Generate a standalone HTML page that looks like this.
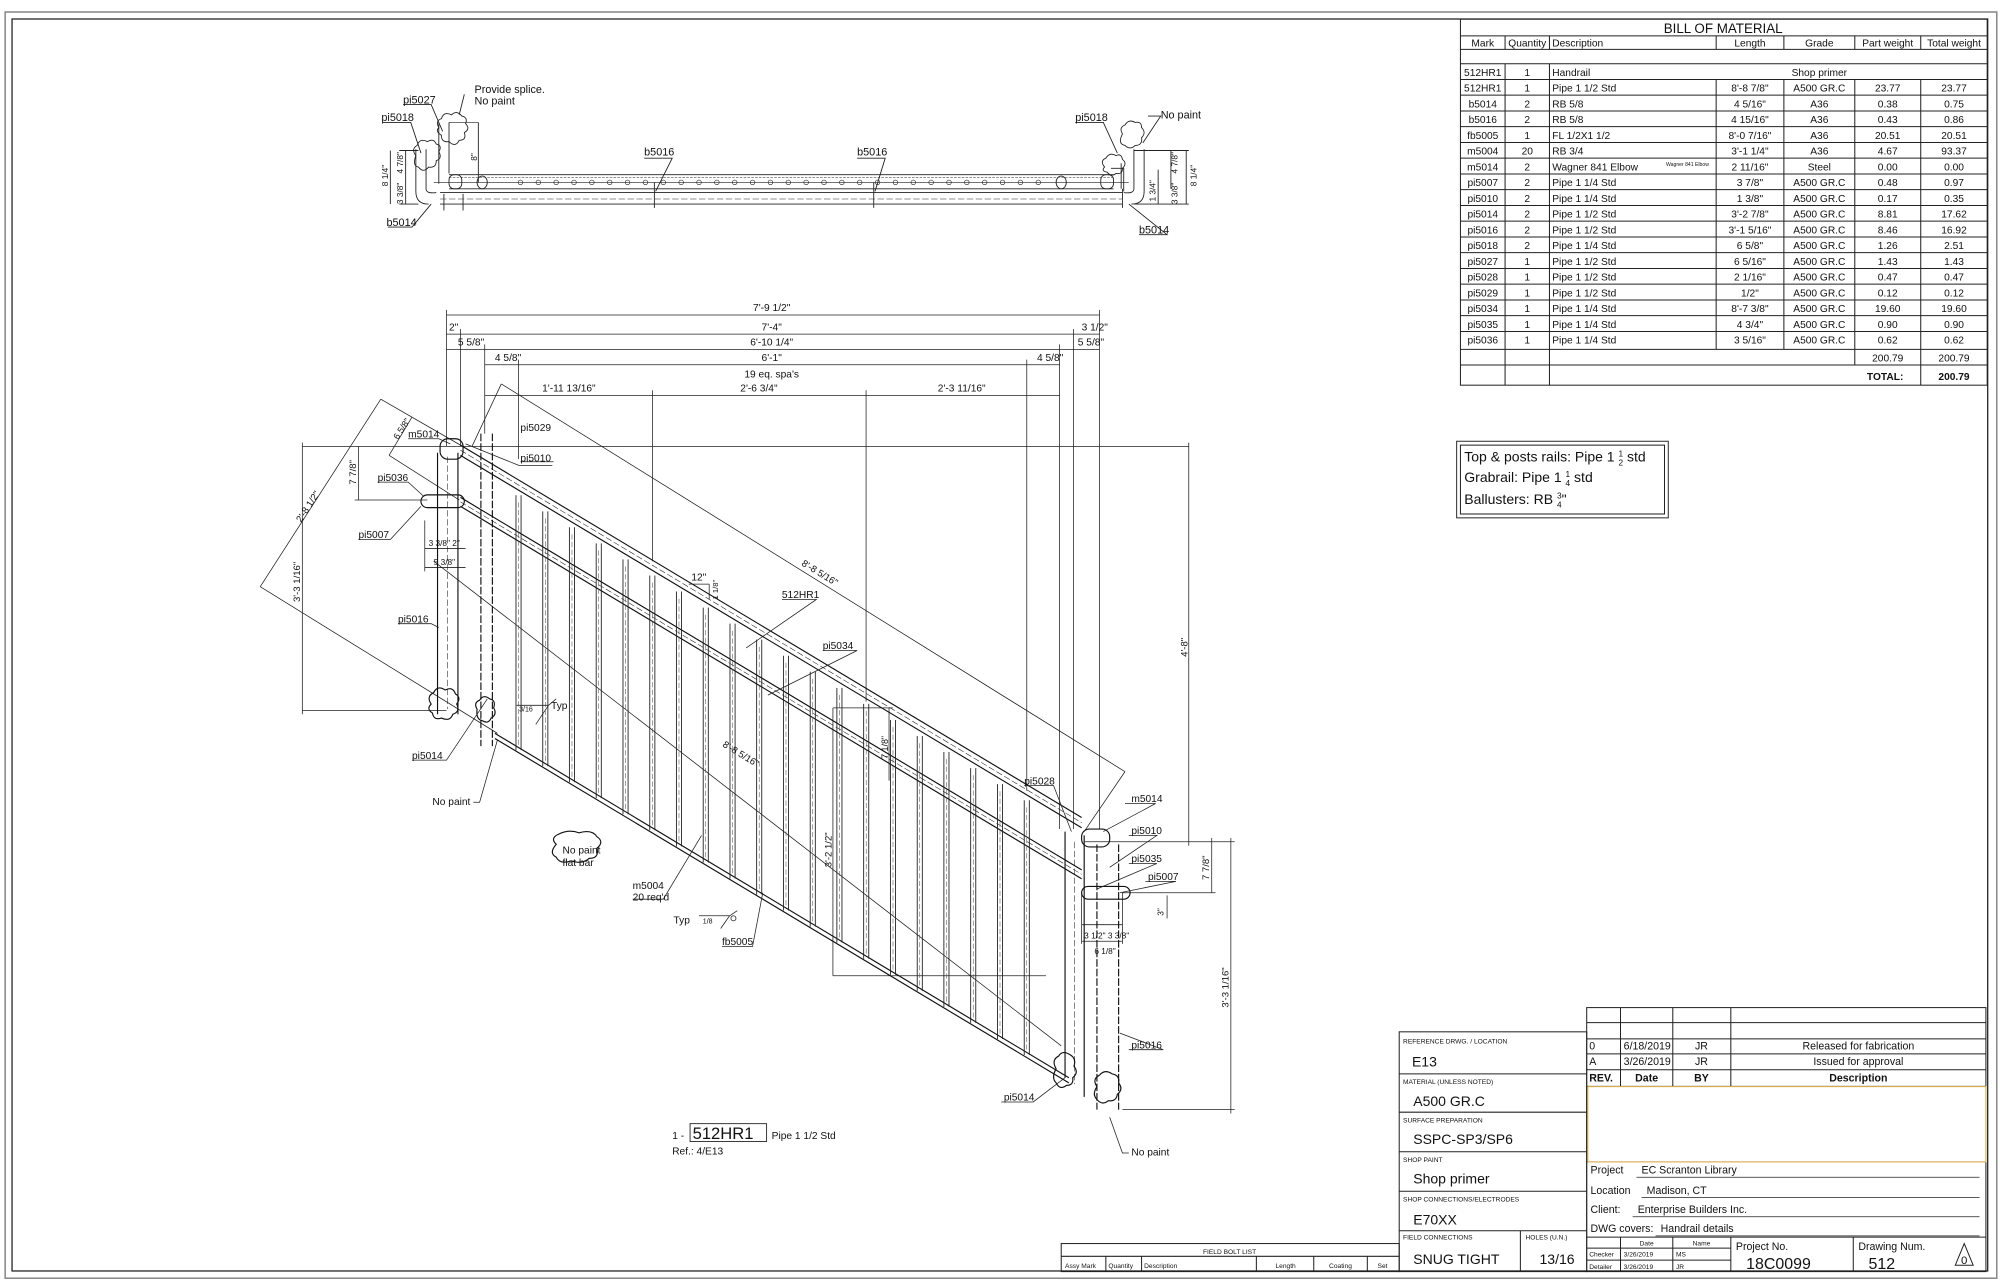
<!DOCTYPE html>
<html><head><meta charset="utf-8"><style>
html,body{margin:0;padding:0;background:#fff}
svg{display:block}
text{font-family:"Liberation Sans",Arial,sans-serif;fill:#111}
</style></head><body>
<svg width="2000" height="1285" viewBox="0 0 1568 1007.5" xmlns="http://www.w3.org/2000/svg">
<defs>
<g id="bal">
<line x1="-2" y1="144.4" x2="-2" y2="344.2" stroke="#222" stroke-width="0.7"/>
<line x1="2" y1="144.4" x2="2" y2="344.2" stroke="#222" stroke-width="0.7"/>
<line x1="0" y1="150" x2="0" y2="340" stroke="#444" stroke-width="0.4" stroke-dasharray="4,2"/>
</g>
</defs>
<rect x="0" y="0" width="1568" height="1007.5" fill="#fff"/>
<rect x="4" y="9.4" width="1561.5" height="992.8" fill="none" stroke="#888" stroke-width="1.2"/>
<rect x="9.4" y="14.9" width="1549" height="981.6" fill="none" stroke="#222" stroke-width="1"/>

<g stroke="#222" stroke-width="0.8" fill="none">
<rect x="1145" y="15" width="413" height="287"/>
<line x1="1145" y1="28.1" x2="1558" y2="28.1"/>
<line x1="1145" y1="38.7" x2="1558" y2="38.7"/>
<line x1="1145" y1="50" x2="1558" y2="50"/>
<line x1="1145" y1="62.3" x2="1558" y2="62.3"/>
<line x1="1145" y1="74.6" x2="1558" y2="74.6"/>
<line x1="1145" y1="87" x2="1558" y2="87"/>
<line x1="1145" y1="99.3" x2="1558" y2="99.3"/>
<line x1="1145" y1="111.7" x2="1558" y2="111.7"/>
<line x1="1145" y1="124" x2="1558" y2="124"/>
<line x1="1145" y1="136.4" x2="1558" y2="136.4"/>
<line x1="1145" y1="148.7" x2="1558" y2="148.7"/>
<line x1="1145" y1="161.1" x2="1558" y2="161.1"/>
<line x1="1145" y1="173.4" x2="1558" y2="173.4"/>
<line x1="1145" y1="185.8" x2="1558" y2="185.8"/>
<line x1="1145" y1="198.1" x2="1558" y2="198.1"/>
<line x1="1145" y1="210.5" x2="1558" y2="210.5"/>
<line x1="1145" y1="222.8" x2="1558" y2="222.8"/>
<line x1="1145" y1="235.2" x2="1558" y2="235.2"/>
<line x1="1145" y1="247.5" x2="1558" y2="247.5"/>
<line x1="1145" y1="259.9" x2="1558" y2="259.9"/>
<line x1="1145" y1="273.9" x2="1558" y2="273.9"/>
<line x1="1145" y1="286.2" x2="1558" y2="286.2"/>
<line x1="1180" y1="28.1" x2="1180" y2="38.7"/><line x1="1180" y1="50" x2="1180" y2="302"/>
<line x1="1214.8" y1="28.1" x2="1214.8" y2="38.7"/><line x1="1214.8" y1="50" x2="1214.8" y2="302"/>
<line x1="1345.5" y1="28.1" x2="1345.5" y2="38.7"/><line x1="1345.5" y1="62.3" x2="1345.5" y2="273.9"/>
<line x1="1398.6" y1="28.1" x2="1398.6" y2="38.7"/><line x1="1398.6" y1="62.3" x2="1398.6" y2="273.9"/>
<line x1="1454.2" y1="28.1" x2="1454.2" y2="38.7"/><line x1="1454.2" y1="62.3" x2="1454.2" y2="286.2"/>
<line x1="1505.9" y1="28.1" x2="1505.9" y2="38.7"/><line x1="1505.9" y1="62.3" x2="1505.9" y2="302"/>
</g>
<g font-size="8" text-anchor="middle">
<text x="1351" y="26" font-size="10.5">BILL OF MATERIAL</text>
<text x="1162.5" y="36.5">Mark</text><text x="1197.4" y="36.5">Quantity</text><text x="1217" y="36.5" text-anchor="start">Description</text><text x="1372" y="36.5">Length</text><text x="1426.4" y="36.5">Grade</text><text x="1480" y="36.5">Part weight</text><text x="1532" y="36.5">Total weight</text>
<text x="1162.5" y="59.5">512HR1</text><text x="1197.4" y="59.5">1</text><text x="1217" y="59.5" text-anchor="start">Handrail</text><text x="1426.4" y="59.5">Shop primer</text>
</g>
<g font-size="8" text-anchor="middle">
<text x="1162.5" y="71.8">512HR1</text><text x="1197.4" y="71.8">1</text><text x="1217" y="71.8" text-anchor="start">Pipe 1 1/2 Std</text><text x="1372" y="71.8">8'-8 7/8"</text><text x="1426.4" y="71.8">A500 GR.C</text><text x="1480" y="71.8">23.77</text><text x="1532" y="71.8">23.77</text>
<text x="1162.5" y="84.2">b5014</text><text x="1197.4" y="84.2">2</text><text x="1217" y="84.2" text-anchor="start">RB 5/8</text><text x="1372" y="84.2">4 5/16"</text><text x="1426.4" y="84.2">A36</text><text x="1480" y="84.2">0.38</text><text x="1532" y="84.2">0.75</text>
<text x="1162.5" y="96.5">b5016</text><text x="1197.4" y="96.5">2</text><text x="1217" y="96.5" text-anchor="start">RB 5/8</text><text x="1372" y="96.5">4 15/16"</text><text x="1426.4" y="96.5">A36</text><text x="1480" y="96.5">0.43</text><text x="1532" y="96.5">0.86</text>
<text x="1162.5" y="108.9">fb5005</text><text x="1197.4" y="108.9">1</text><text x="1217" y="108.9" text-anchor="start">FL 1/2X1 1/2</text><text x="1372" y="108.9">8'-0 7/16"</text><text x="1426.4" y="108.9">A36</text><text x="1480" y="108.9">20.51</text><text x="1532" y="108.9">20.51</text>
<text x="1162.5" y="121.2">m5004</text><text x="1197.4" y="121.2">20</text><text x="1217" y="121.2" text-anchor="start">RB 3/4</text><text x="1372" y="121.2">3'-1 1/4"</text><text x="1426.4" y="121.2">A36</text><text x="1480" y="121.2">4.67</text><text x="1532" y="121.2">93.37</text>
<text x="1162.5" y="133.6">m5014</text><text x="1197.4" y="133.6">2</text><text x="1217" y="133.6" text-anchor="start">Wagner 841 Elbow</text><text x="1323" y="130" font-size="4">Wagner 841 Elbow</text><text x="1372" y="133.6">2 11/16"</text><text x="1426.4" y="133.6">Steel</text><text x="1480" y="133.6">0.00</text><text x="1532" y="133.6">0.00</text>
<text x="1162.5" y="145.9">pi5007</text><text x="1197.4" y="145.9">2</text><text x="1217" y="145.9" text-anchor="start">Pipe 1 1/4 Std</text><text x="1372" y="145.9">3 7/8"</text><text x="1426.4" y="145.9">A500 GR.C</text><text x="1480" y="145.9">0.48</text><text x="1532" y="145.9">0.97</text>
<text x="1162.5" y="158.3">pi5010</text><text x="1197.4" y="158.3">2</text><text x="1217" y="158.3" text-anchor="start">Pipe 1 1/4 Std</text><text x="1372" y="158.3">1 3/8"</text><text x="1426.4" y="158.3">A500 GR.C</text><text x="1480" y="158.3">0.17</text><text x="1532" y="158.3">0.35</text>
<text x="1162.5" y="170.6">pi5014</text><text x="1197.4" y="170.6">2</text><text x="1217" y="170.6" text-anchor="start">Pipe 1 1/2 Std</text><text x="1372" y="170.6">3'-2 7/8"</text><text x="1426.4" y="170.6">A500 GR.C</text><text x="1480" y="170.6">8.81</text><text x="1532" y="170.6">17.62</text>
<text x="1162.5" y="183">pi5016</text><text x="1197.4" y="183">2</text><text x="1217" y="183" text-anchor="start">Pipe 1 1/2 Std</text><text x="1372" y="183">3'-1 5/16"</text><text x="1426.4" y="183">A500 GR.C</text><text x="1480" y="183">8.46</text><text x="1532" y="183">16.92</text>
<text x="1162.5" y="195.3">pi5018</text><text x="1197.4" y="195.3">2</text><text x="1217" y="195.3" text-anchor="start">Pipe 1 1/4 Std</text><text x="1372" y="195.3">6 5/8"</text><text x="1426.4" y="195.3">A500 GR.C</text><text x="1480" y="195.3">1.26</text><text x="1532" y="195.3">2.51</text>
<text x="1162.5" y="207.7">pi5027</text><text x="1197.4" y="207.7">1</text><text x="1217" y="207.7" text-anchor="start">Pipe 1 1/2 Std</text><text x="1372" y="207.7">6 5/16"</text><text x="1426.4" y="207.7">A500 GR.C</text><text x="1480" y="207.7">1.43</text><text x="1532" y="207.7">1.43</text>
<text x="1162.5" y="220">pi5028</text><text x="1197.4" y="220">1</text><text x="1217" y="220" text-anchor="start">Pipe 1 1/2 Std</text><text x="1372" y="220">2 1/16"</text><text x="1426.4" y="220">A500 GR.C</text><text x="1480" y="220">0.47</text><text x="1532" y="220">0.47</text>
<text x="1162.5" y="232.4">pi5029</text><text x="1197.4" y="232.4">1</text><text x="1217" y="232.4" text-anchor="start">Pipe 1 1/2 Std</text><text x="1372" y="232.4">1/2"</text><text x="1426.4" y="232.4">A500 GR.C</text><text x="1480" y="232.4">0.12</text><text x="1532" y="232.4">0.12</text>
<text x="1162.5" y="244.7">pi5034</text><text x="1197.4" y="244.7">1</text><text x="1217" y="244.7" text-anchor="start">Pipe 1 1/4 Std</text><text x="1372" y="244.7">8'-7 3/8"</text><text x="1426.4" y="244.7">A500 GR.C</text><text x="1480" y="244.7">19.60</text><text x="1532" y="244.7">19.60</text>
<text x="1162.5" y="257.1">pi5035</text><text x="1197.4" y="257.1">1</text><text x="1217" y="257.1" text-anchor="start">Pipe 1 1/4 Std</text><text x="1372" y="257.1">4 3/4"</text><text x="1426.4" y="257.1">A500 GR.C</text><text x="1480" y="257.1">0.90</text><text x="1532" y="257.1">0.90</text>
<text x="1162.5" y="269.4">pi5036</text><text x="1197.4" y="269.4">1</text><text x="1217" y="269.4" text-anchor="start">Pipe 1 1/4 Std</text><text x="1372" y="269.4">3 5/16"</text><text x="1426.4" y="269.4">A500 GR.C</text><text x="1480" y="269.4">0.62</text><text x="1532" y="269.4">0.62</text>
<text x="1480" y="283.4">200.79</text><text x="1532" y="283.4">200.79</text>
<text x="1478" y="298" font-weight="bold">TOTAL:</text><text x="1532" y="298" font-weight="bold">200.79</text>
</g>

<!-- note box -->
<rect x="1142" y="346" width="166" height="60" fill="none" stroke="#444" stroke-width="0.9"/>
<rect x="1145" y="349" width="160" height="54" fill="none" stroke="#222" stroke-width="0.8"/>
<g font-size="11">
<text x="1148" y="362">Top &amp; posts rails: Pipe 1 <tspan font-size="6.5" dy="-4">1</tspan><tspan font-size="6.5" dx="-3.6" dy="7">2</tspan><tspan dy="-3"> std</tspan></text>
<text x="1148" y="378">Grabrail: Pipe 1 <tspan font-size="6.5" dy="-4">1</tspan><tspan font-size="6.5" dx="-3.6" dy="7">4</tspan><tspan dy="-3"> std</tspan></text>
<text x="1148" y="395">Ballusters: RB <tspan font-size="6.5" dy="-4">3</tspan><tspan font-size="6.5" dx="-3.6" dy="7">4</tspan><tspan dy="-3">"</tspan></text>
</g>

<!-- title block -->
<g stroke="#222" stroke-width="0.8" fill="none">
<rect x="1097" y="809" width="147" height="188"/>
<line x1="1097" y1="842" x2="1244" y2="842"/>
<line x1="1097" y1="872" x2="1244" y2="872"/>
<line x1="1097" y1="903" x2="1244" y2="903"/>
<line x1="1097" y1="934" x2="1244" y2="934"/>
<line x1="1097" y1="965" x2="1244" y2="965"/>
<line x1="1192" y1="965" x2="1192" y2="997"/>
<rect x="1244" y="790" width="313" height="207"/>
<line x1="1244" y1="801.8" x2="1557" y2="801.8"/>
<line x1="1244" y1="814.5" x2="1557" y2="814.5"/>
<line x1="1244" y1="826.3" x2="1557" y2="826.3"/>
<line x1="1244" y1="838.7" x2="1557" y2="838.7"/>
<line x1="1244" y1="851.8" x2="1557" y2="851.8"/>
<line x1="1270.5" y1="790" x2="1270.5" y2="851.8"/>
<line x1="1311.5" y1="790" x2="1311.5" y2="851.8"/>
<line x1="1357" y1="790" x2="1357" y2="851.8"/>
<line x1="1244" y1="911" x2="1557" y2="911"/>
<line x1="1283" y1="923" x2="1552" y2="923" stroke-width="0.6"/>
<line x1="1287" y1="939" x2="1552" y2="939" stroke-width="0.6"/>
<line x1="1280" y1="954" x2="1552" y2="954" stroke-width="0.6"/>
<line x1="1298" y1="969" x2="1552" y2="969" stroke-width="0.6"/>
<line x1="1244" y1="970" x2="1557" y2="970"/>
<line x1="1270.5" y1="970" x2="1270.5" y2="997"/>
<line x1="1311.5" y1="970" x2="1311.5" y2="997"/>
<line x1="1357" y1="970" x2="1357" y2="997"/>
<line x1="1453" y1="970" x2="1453" y2="997"/>
<line x1="1244" y1="978.6" x2="1357" y2="978.6"/>
<line x1="1244" y1="988" x2="1357" y2="988"/>
<rect x="832" y="975" width="265" height="22"/>
<line x1="832" y1="985" x2="1097" y2="985"/>
<line x1="867" y1="985" x2="867" y2="997"/><line x1="895" y1="985" x2="895" y2="997"/><line x1="985" y1="985" x2="985" y2="997"/><line x1="1030" y1="985" x2="1030" y2="997"/><line x1="1072" y1="985" x2="1072" y2="997"/>
</g>
<rect x="1245" y="852" width="312" height="59" fill="none" stroke="#f3c45a" stroke-width="0.8"/>
<g font-size="5.2">
<text x="1100" y="818">REFERENCE DRWG. / LOCATION</text>
<text x="1100" y="850">MATERIAL (UNLESS NOTED)</text>
<text x="1100" y="880">SURFACE PREPARATION</text>
<text x="1100" y="911">SHOP PAINT</text>
<text x="1100" y="942">SHOP CONNECTIONS/ELECTRODES</text>
<text x="1100" y="972">FIELD CONNECTIONS</text>
<text x="1196" y="972">HOLES (U.N.)</text>
<text x="964" y="983" text-anchor="middle">FIELD BOLT LIST</text>
<text x="835" y="994">Assy Mark</text><text x="869" y="994">Quantity</text><text x="897" y="994">Description</text><text x="1000" y="994">Length</text><text x="1042" y="994">Coating</text><text x="1080" y="994">Set</text>
<text x="1246" y="985">Checker</text><text x="1273" y="985">3/26/2019</text><text x="1314" y="985">MS</text>
<text x="1246" y="995">Detailer</text><text x="1273" y="995">3/26/2019</text><text x="1314" y="995">JR</text>
<text x="1291" y="976.5" text-anchor="middle">Date</text><text x="1334" y="976.5" text-anchor="middle">Name</text>
</g>
<g font-size="11">
<text x="1107" y="836">E13</text>
<text x="1108" y="867">A500 GR.C</text>
<text x="1108" y="897">SSPC-SP3/SP6</text>
<text x="1108" y="928">Shop primer</text>
<text x="1108" y="960">E70XX</text>
<text x="1108" y="991">SNUG TIGHT</text>
<text x="1207" y="991">13/16</text>
</g>
<g font-size="8.3">
<text x="1246" y="823">0</text><text x="1273" y="823">6/18/2019</text><text x="1334" y="823" text-anchor="middle">JR</text><text x="1457" y="823" text-anchor="middle">Released for fabrication</text>
<text x="1246" y="835">A</text><text x="1273" y="835">3/26/2019</text><text x="1334" y="835" text-anchor="middle">JR</text><text x="1457" y="835" text-anchor="middle">Issued for approval</text>
<g font-weight="bold"><text x="1246" y="848">REV.</text><text x="1291" y="848" text-anchor="middle">Date</text><text x="1334" y="848" text-anchor="middle">BY</text><text x="1457" y="848" text-anchor="middle">Description</text></g>
<text x="1247" y="920">Project</text><text x="1287" y="920">EC Scranton Library</text>
<text x="1247" y="936">Location</text><text x="1291" y="936">Madison, CT</text>
<text x="1247" y="951">Client:</text><text x="1284" y="951">Enterprise Builders Inc.</text>
<text x="1247" y="966">DWG covers:</text><text x="1302" y="966">Handrail details</text>
<text x="1361" y="980">Project No.</text><text x="1457" y="980">Drawing Num.</text>
</g>
<text x="1369" y="995" font-size="12.5">18C0099</text>
<text x="1465" y="995" font-size="12.5">512</text>
<polygon points="1540,975 1533,992 1547,992" fill="none" stroke="#222" stroke-width="0.8"/>
<text x="1540" y="991" font-size="9" text-anchor="middle">0</text>

<!-- PLAN VIEW -->
<g stroke="#222" stroke-width="0.7" fill="none">
<line x1="352" y1="137" x2="873" y2="137"/>
<line x1="352" y1="139" x2="873" y2="139" stroke-dasharray="2,1" stroke-width="0.4"/>
<line x1="352" y1="148" x2="873" y2="148"/>
<line x1="340" y1="143" x2="885" y2="143" stroke-width="0.5"/>
<line x1="345" y1="151" x2="880" y2="151"/>
<line x1="345" y1="160" x2="880" y2="160"/>
<line x1="345" y1="156" x2="880" y2="156" stroke-dasharray="5,2" stroke-width="0.4"/>
<path d="M326,117 V150 Q326,160 336,160 M334,117 V148 Q334,152 342,151"/>
<path d="M344,96 V144 M352,96 V136"/>
<path d="M897,117 V150 Q897,160 887,160 M889,117 V148 Q889,152 881,151"/>
<path d="M871,132 H881 V150 M879,128 V148"/>
<rect x="352" y="137" width="10" height="11" rx="4"/>
<rect x="863" y="137" width="10" height="11" rx="4"/>
<ellipse cx="378" cy="143" rx="4" ry="5"/>
<ellipse cx="832" cy="143" rx="4" ry="5"/>
<line x1="375" y1="96" x2="375" y2="143"/><line x1="352" y1="96" x2="375" y2="96" stroke-width="0.5"/>
<line x1="348" y1="152" x2="348" y2="165"/><line x1="363" y1="152" x2="363" y2="165"/>
<line x1="513" y1="143" x2="513" y2="163"/><line x1="685" y1="143" x2="685" y2="163"/>
<line x1="880" y1="148" x2="880" y2="163"/>
<line x1="318" y1="118" x2="318" y2="160"/><line x1="313" y1="118" x2="328" y2="118"/><line x1="313" y1="160" x2="328" y2="160"/>
<line x1="306" y1="118" x2="306" y2="160"/>
<line x1="908" y1="133" x2="908" y2="160"/><line x1="918" y1="118" x2="918" y2="148"/><line x1="930" y1="118" x2="930" y2="160"/>
<line x1="889" y1="118" x2="932" y2="118"/><line x1="889" y1="160" x2="932" y2="160"/>
<path d="M344,100 q-3,-5 2,-7 q2,-6 8,-3 q4,-4 8,1 q5,1 3,6 q4,4 -1,7 q2,6 -4,6 q-3,6 -8,1 q-6,1 -6,-5 q-5,-3 -2,-6z"/>
<path d="M326,122 q-4,-5 1,-8 q2,-6 8,-3 q5,-3 7,2 q5,1 2,6 q3,5 -2,7 q0,6 -6,5 q-4,5 -8,0 q-5,-1 -2,-9z"/>
<path d="M880,105 q-3,-5 2,-7 q3,-5 8,-2 q5,-1 5,4 q4,4 0,8 q1,6 -5,6 q-4,4 -8,0 q-6,-1 -2,-9z"/>
<path d="M866,131 q-4,-5 1,-7 q3,-5 8,-2 q4,-2 5,3 q4,3 0,7 q0,5 -5,4 q-4,3 -7,-1 q-5,-1 -2,-4z"/>
<path d="M316,82 H338 L347,103 M300,96 H322 L330,120 M304,178 H323 L338,160 M505,124 H527 L514,150 M672,124 H694 L686,150 M843,96 H865 L876,120 M900,91 L910,91 L896,112 M893,184 H915 L885,160 M364,74 L360,90"/>
</g>
<g fill="none" stroke="#222" stroke-width="0.5">
<circle cx="408" cy="143" r="1.8"/><circle cx="422" cy="143" r="1.8"/><circle cx="436" cy="143" r="1.8"/><circle cx="450" cy="143" r="1.8"/><circle cx="464" cy="143" r="1.8"/><circle cx="478" cy="143" r="1.8"/><circle cx="492" cy="143" r="1.8"/><circle cx="506" cy="143" r="1.8"/><circle cx="520" cy="143" r="1.8"/><circle cx="534" cy="143" r="1.8"/><circle cx="548" cy="143" r="1.8"/><circle cx="562" cy="143" r="1.8"/><circle cx="576" cy="143" r="1.8"/><circle cx="590" cy="143" r="1.8"/><circle cx="604" cy="143" r="1.8"/><circle cx="618" cy="143" r="1.8"/><circle cx="632" cy="143" r="1.8"/><circle cx="646" cy="143" r="1.8"/><circle cx="660" cy="143" r="1.8"/><circle cx="674" cy="143" r="1.8"/><circle cx="688" cy="143" r="1.8"/><circle cx="702" cy="143" r="1.8"/><circle cx="716" cy="143" r="1.8"/><circle cx="730" cy="143" r="1.8"/><circle cx="744" cy="143" r="1.8"/><circle cx="758" cy="143" r="1.8"/><circle cx="772" cy="143" r="1.8"/><circle cx="786" cy="143" r="1.8"/><circle cx="800" cy="143" r="1.8"/><circle cx="814" cy="143" r="1.8"/>
</g>
<g font-size="8.5">
<text x="316" y="81">pi5027</text><text x="299" y="95">pi5018</text><text x="303" y="177">b5014</text>
<text x="505" y="122">b5016</text><text x="672" y="122">b5016</text><text x="843" y="95">pi5018</text><text x="893" y="183">b5014</text>
<text x="372" y="73">Provide splice.</text><text x="372" y="82">No paint</text><text x="910" y="93">No paint</text>
<text font-size="6.5" transform="translate(304,146) rotate(-90)">8 1/4"</text>
<text font-size="6.5" transform="translate(316,136) rotate(-90)">4 7/8"</text>
<text font-size="6.5" transform="translate(316,160) rotate(-90)">3 3/8"</text>
<text font-size="6.5" transform="translate(374,126) rotate(-90)">8"</text>
<text font-size="6.5" transform="translate(906,158) rotate(-90)">1 3/4"</text>
<text font-size="6.5" transform="translate(923,136) rotate(-90)">4 7/8"</text>
<text font-size="6.5" transform="translate(923,160) rotate(-90)">3 3/8"</text>
<text font-size="6.5" transform="translate(938,146) rotate(-90)">8 1/4"</text>
</g>

<!-- ELEVATION -->
<g stroke="#222" stroke-width="0.6" fill="none">
<line x1="350" y1="247" x2="862" y2="247"/>
<line x1="350" y1="262" x2="862" y2="262"/>
<line x1="350" y1="274" x2="862" y2="274"/>
<line x1="380" y1="286" x2="831" y2="286"/>
<line x1="380" y1="310" x2="831" y2="310"/>
<line x1="350" y1="243" x2="350" y2="350"/>
<line x1="361" y1="258" x2="361" y2="350"/>
<line x1="380" y1="270" x2="380" y2="340"/>
<line x1="406.5" y1="282" x2="406.5" y2="360"/>
<line x1="511.5" y1="306" x2="511.5" y2="440"/>
<line x1="679" y1="306" x2="679" y2="550"/>
<line x1="805" y1="282" x2="805" y2="620"/>
<line x1="830.6" y1="270" x2="830.6" y2="650"/>
<line x1="841.7" y1="258" x2="841.7" y2="650"/>
<line x1="862" y1="243" x2="862" y2="650"/>
<line x1="237" y1="350" x2="932" y2="350"/>
<line x1="237" y1="557" x2="350" y2="557"/>
<line x1="850" y1="660" x2="968" y2="660"/>
<line x1="880" y1="870" x2="968" y2="870"/>
<line x1="237" y1="347" x2="237" y2="560"/>
<line x1="932" y1="347" x2="932" y2="663"/>
<line x1="965" y1="657" x2="965" y2="873"/>
<line x1="950" y1="657" x2="950" y2="700"/><line x1="880" y1="700" x2="953" y2="700"/>
<line x1="281" y1="350" x2="281" y2="392"/><line x1="278" y1="392" x2="335" y2="392"/>
<line x1="298.5" y1="313" x2="204" y2="460"/>
<line x1="298.5" y1="313" x2="361" y2="349"/>
<line x1="204" y1="460" x2="390" y2="575"/>
<line x1="323" y1="327" x2="305" y2="357"/>
<line x1="305" y1="357" x2="360" y2="392"/>
<line x1="393" y1="301" x2="882" y2="605"/>
<line x1="393" y1="301" x2="370" y2="350"/>
<line x1="882" y1="605" x2="850" y2="652"/>
<line x1="340" y1="440" x2="832" y2="820"/>
<line x1="653" y1="555" x2="700" y2="555"/>
<line x1="653" y1="555" x2="653" y2="765"/>
<line x1="653" y1="765" x2="820" y2="765"/>
<line x1="697" y1="555" x2="697" y2="612"/>
<line x1="540" y1="458" x2="556" y2="458"/><line x1="556" y1="458" x2="556" y2="470"/>
<line x1="333" y1="430" x2="365" y2="430"/><line x1="333" y1="445" x2="365" y2="445"/>
<line x1="333" y1="408" x2="333" y2="448"/>
<line x1="848" y1="725" x2="880" y2="725"/><line x1="848" y1="738" x2="880" y2="738"/>
<line x1="848" y1="700" x2="848" y2="740"/><line x1="880" y1="700" x2="880" y2="740"/>
<line x1="915" y1="702" x2="915" y2="720"/>
</g>
<g stroke="#111" stroke-width="0.9" fill="none">
<line x1="361" y1="349" x2="848" y2="641"/>
<line x1="361" y1="357" x2="848" y2="649"/>
<line x1="361" y1="353" x2="848" y2="645" stroke-width="0.4" stroke-dasharray="5,2"/>
<line x1="361" y1="390" x2="848" y2="682"/>
<line x1="361" y1="397" x2="848" y2="689"/>
<line x1="361" y1="393.5" x2="848" y2="685.5" stroke-width="0.4" stroke-dasharray="5,2"/>
<line x1="388" y1="575" x2="838" y2="845"/>
<line x1="388" y1="579" x2="838" y2="849"/>
<line x1="343" y1="355" x2="343" y2="560"/>
<line x1="359" y1="355" x2="359" y2="560"/>
<line x1="351" y1="358" x2="351" y2="556" stroke-width="0.4" stroke-dasharray="5,2"/>
<line x1="377" y1="340" x2="377" y2="585" stroke-dasharray="6,1.5"/>
<line x1="386" y1="340" x2="386" y2="585" stroke-dasharray="6,1.5"/>
<rect x="345" y="344" width="18" height="16" rx="6"/>
<rect x="330" y="388" width="34" height="10" rx="5"/>
<line x1="835" y1="652" x2="835" y2="845"/>
<line x1="850" y1="655" x2="850" y2="860"/>
<line x1="842.5" y1="660" x2="842.5" y2="850" stroke-width="0.4" stroke-dasharray="5,2"/>
<line x1="860" y1="662" x2="860" y2="870" stroke-dasharray="6,1.5"/>
<line x1="877" y1="662" x2="877" y2="870" stroke-dasharray="6,1.5"/>
<rect x="848" y="650" width="22" height="14" rx="6"/>
<rect x="848" y="695" width="38" height="10" rx="5"/>
<path d="M338,552 q-4,-6 2,-9 q3,-6 9,-2 q6,-3 8,3 q5,3 1,8 q3,6 -3,8 q-2,6 -9,3 q-6,2 -7,-4 q-5,-3 -1,-7z"/>
<path d="M374,556 q-3,-5 2,-7 q3,-5 8,-1 q5,1 3,7 q3,5 -2,8 q-2,5 -7,2 q-5,-1 -4,-9z"/>
<path d="M828,838 q-4,-7 2,-10 q3,-5 9,-1 q5,3 3,9 q4,5 -1,9 q1,6 -5,6 q-5,4 -8,-2 q-4,-4 0,-11z"/>
<path d="M860,852 q-4,-6 2,-9 q4,-5 10,-1 q6,1 5,7 q4,5 -1,9 q-1,6 -7,5 q-5,4 -9,-1 q-4,-4 0,-10z"/>
<path d="M436,662 q-5,-5 2,-8 q8,-4 16,-1 q10,-3 14,3 q6,4 0,9 q2,8 -6,8 q-6,5 -14,2 q-9,3 -12,-3 q-6,-3 0,-10z"/>
</g>
<use href="#bal" transform="translate(406.5,243.9)"/><use href="#bal" transform="translate(427.5,256.5)"/><use href="#bal" transform="translate(448.4,269)"/><use href="#bal" transform="translate(469.4,281.6)"/><use href="#bal" transform="translate(490.4,294.2)"/><use href="#bal" transform="translate(511.4,306.8)"/><use href="#bal" transform="translate(532.3,319.4)"/><use href="#bal" transform="translate(553.3,332)"/><use href="#bal" transform="translate(574.3,344.6)"/><use href="#bal" transform="translate(595.2,357.1)"/><use href="#bal" transform="translate(616.2,369.7)"/><use href="#bal" transform="translate(637.2,382.3)"/><use href="#bal" transform="translate(658.1,394.9)"/><use href="#bal" transform="translate(679.1,407.5)"/><use href="#bal" transform="translate(700.1,420.1)"/><use href="#bal" transform="translate(721.1,432.7)"/><use href="#bal" transform="translate(742,445.2)"/><use href="#bal" transform="translate(763,457.8)"/><use href="#bal" transform="translate(784,470.4)"/><use href="#bal" transform="translate(805,483)"/>
<g stroke="#222" stroke-width="0.6" fill="none">
<path d="M320,344 H344 L353,348"/>
<path d="M407,365 H433 M407,365 L365,348"/>
<path d="M408,362 H434"/>
<path d="M296,378 H320 L332,389"/>
<path d="M281,423 H306 L330,397"/>
<path d="M312,489 H338 L344,492"/>
<path d="M323,596 H350 L382,548"/>
<path d="M371,629 L376,629 L390,580"/>
<path d="M496,705 H520 L550,655"/>
<path d="M566,742 H590 L598,700"/>
<path d="M613,470 H640 L585,508"/>
<path d="M645,510 H672 L602,545"/>
<path d="M803,616 H826 L840,652"/>
<path d="M882,630 H906 L865,652"/>
<path d="M885,655 H907 L870,680"/>
<path d="M885,677 H907 L860,697"/>
<path d="M898,691 H922 L878,700"/>
<path d="M785,864 H810 L835,845"/>
<path d="M885,823 H912 L878,810"/>
<path d="M885,904 L880,904 L870,876"/>
<path d="M405,553 H430 L420,568 M430,553 L436,548"/>
<path d="M548,718 H572 L565,728 M572,718 L578,714"/>
<circle cx="575" cy="720" r="2"/>
</g>
<g font-size="8">
<text x="605" y="244" text-anchor="middle">7'-9 1/2"</text>
<text x="352" y="259">2"</text><text x="605" y="259" text-anchor="middle">7'-4"</text><text x="848" y="259">3 1/2"</text>
<text x="359" y="271">5 5/8"</text><text x="605" y="271" text-anchor="middle">6'-10 1/4"</text><text x="845" y="271">5 5/8"</text>
<text x="388" y="283">4 5/8"</text><text x="605" y="283" text-anchor="middle">6'-1"</text><text x="813" y="283">4 5/8"</text>
<text x="605" y="296" text-anchor="middle">19 eq. spa's</text>
<text x="446" y="307" text-anchor="middle">1'-11 13/16"</text><text x="595" y="307" text-anchor="middle">2'-6 3/4"</text><text x="754" y="307" text-anchor="middle">2'-3 11/16"</text>
<text x="320" y="343">m5014</text><text x="408" y="338">pi5029</text><text x="408" y="362">pi5010</text>
<text x="296" y="377">pi5036</text><text x="281" y="422">pi5007</text><text x="312" y="488">pi5016</text><text x="323" y="595">pi5014</text>
<text x="339" y="631">No paint</text>
<text x="441" y="669">No paint</text><text x="441" y="679">flat bar</text>
<text x="496" y="697">m5004</text><text x="496" y="706">20 req'd</text>
<text x="528" y="724">Typ</text><text x="551" y="724" font-size="5.5">1/8</text>
<text x="566" y="741">fb5005</text>
<text x="613" y="469">512HR1</text><text x="645" y="509">pi5034</text>
<text x="542" y="455">12"</text>
<text x="803" y="615">pi5028</text><text x="887" y="629">m5014</text><text x="887" y="654">pi5010</text><text x="887" y="676">pi5035</text><text x="900" y="690">pi5007</text>
<text x="887" y="822">pi5016</text><text x="787" y="863">pi5014</text><text x="887" y="906">No paint</text>
<text x="407" y="558" font-size="5.5">3/16</text><text x="432" y="556">Typ</text>
<text x="336" y="428" font-size="6.5">3 3/8"  2"</text><text x="340" y="443" font-size="6.5">5 3/8"</text>
<text x="850" y="736" font-size="6.5">3 1/2"  3 3/8"</text><text x="858" y="748" font-size="6.5">6 1/8"</text>
<text font-size="7.5" transform="translate(235,472) rotate(-90)">3'-3 1/16"</text>
<text font-size="7.5" transform="translate(279,380) rotate(-90)">7 7/8"</text>
<text font-size="7.5" transform="translate(236,410) rotate(-57)">2'-8 1/2"</text>
<text font-size="7" transform="translate(312,345) rotate(-57)">6 5/8"</text>
<text font-size="7.5" transform="translate(628,443) rotate(31.5)">8'-8 5/16"</text>
<text font-size="7.5" transform="translate(566,585) rotate(31.5)">8'-8 5/16"</text>
<text font-size="7.5" transform="translate(931,515) rotate(-90)">4'-8"</text>
<text font-size="7.5" transform="translate(963,790) rotate(-90)">3'-3 1/16"</text>
<text font-size="7.5" transform="translate(948,690) rotate(-90)">7 7/8"</text>
<text font-size="7.5" transform="translate(652,680) rotate(-90)">3'-2 1/2"</text>
<text font-size="7" transform="translate(696,595) rotate(-90)">7 1/8"</text>
<text font-size="6" transform="translate(563,470) rotate(-90)">1 1/8"</text>
<text font-size="6.5" transform="translate(912,718) rotate(-90)">3"</text>
</g>
<rect x="541" y="881" width="60" height="14" fill="none" stroke="#222" stroke-width="0.7"/>
<text x="527" y="893" font-size="8">1 -</text>
<text x="543" y="893" font-size="13">512HR1</text>
<text x="605" y="893" font-size="8">Pipe 1 1/2 Std</text>
<text x="527" y="905" font-size="8">Ref.: 4/E13</text>
</svg>
</body></html>
